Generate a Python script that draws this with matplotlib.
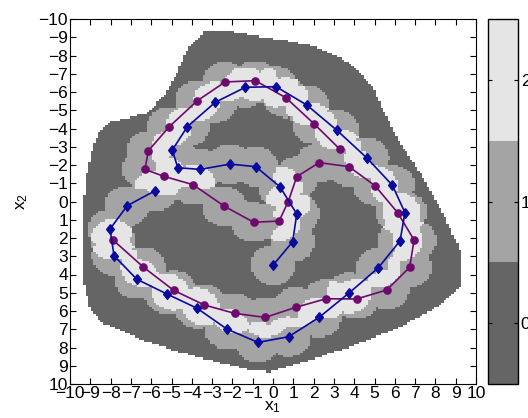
import numpy as np
import matplotlib.pyplot as plt
from matplotlib.colors import ListedColormap
from matplotlib.path import Path

plt.rcParams["font.family"] = ["Liberation Sans", "DejaVu Sans"]
plt.rcParams["mathtext.fontset"] = "custom"
plt.rcParams["mathtext.rm"] = "Liberation Sans"
plt.rcParams["mathtext.it"] = "Liberation Sans"

# trajectory 1 (purple, circles)
purple_x = [3.30, 2.03, 0.63, -0.87, -2.36, -3.73, -5.11, -6.14, -6.31, -5.38,
            -3.93, -2.41, -0.95, 0.30, 0.75, 1.17, 2.27, 3.74, 5.02, 6.14,
            6.95, 6.73, 5.60, 4.12, 2.61, 1.12, -0.38, -1.89, -3.38, -4.89,
            -6.39, -7.90]
purple_y = [-2.86, -4.25, -5.69, -6.62, -6.55, -5.52, -4.10, -2.78, -1.76, -1.38,
            -0.92, 0.25, 1.14, 1.07, 0.01, -1.36, -2.13, -1.91, -0.87, 0.61,
            2.11, 3.61, 4.85, 5.34, 5.33, 5.80, 6.35, 6.13, 5.67, 4.87,
            3.59, 2.09]

# trajectory 2 (blue, diamonds)
blue_x = [0.01, 0.97, 1.17, 0.34, -0.85, -2.12, -3.58, -4.69, -4.96, -4.22,
          -2.84, -1.36, 0.15, 1.66, 3.15, 4.63, 5.88, 6.50, 6.26, 5.19,
          3.76, 2.27, 0.77, -0.74, -2.27, -3.74, -5.22, -6.71, -7.83, -8.03,
          -7.18, -5.81]
blue_y = [3.48, 2.20, 0.68, -0.81, -1.91, -2.05, -1.76, -1.85, -2.82, -4.10,
          -5.44, -6.26, -6.29, -5.29, -3.90, -2.38, -0.89, 0.61, 2.15, 3.63,
          5.00, 6.35, 7.41, 7.72, 6.99, 5.85, 5.07, 4.26, 2.97, 1.51,
          0.23, -0.59]

# outline of the explored region
region_x = [-3.35, -1.97, -1.13, 0.49, 2.17, 3.79, 4.93, 5.42, 6.26, 7.39,
            8.23, 9.21, 9.21, 8.08, 6.26, 3.79, 1.33, -0.15, -1.13, -2.76,
            -4.43, -6.06, -7.19, -8.37, -9.01, -9.36, -9.36, -9.16, -8.87, -8.52,
            -8.03, -7.19, -6.21, -5.42, -4.73, -4.24]
region_y = [-9.34, -9.29, -9.12, -8.85, -8.47, -7.59, -6.27, -5.01, -3.20, -1.34,
            0.30, 2.66, 4.68, 5.78, 6.88, 7.97, 8.85, 9.34, 9.23, 8.79,
            8.30, 7.75, 7.20, 6.66, 5.95, 4.14, 0.47, -1.56, -2.99, -3.92,
            -4.36, -4.58, -4.85, -5.73, -7.04, -8.30]

levels = [0, 1, 2]
level_colors = ["#656565", "#a4a4a4", "#e5e5e5"]
radius = 1.1
ticks = list(range(-10, 11))


def coverage(gx, gy, px, py):
    d = np.full(gx.shape, np.inf)
    for x, y in zip(px, py):
        d = np.minimum(d, np.hypot(gx - x, gy - y))
    return d < radius


def main():
    g = np.arange(-10, 10.001, 0.12)
    gx, gy = np.meshgrid(g, g)
    val = coverage(gx, gy, purple_x, purple_y).astype(float) + coverage(gx, gy, blue_x, blue_y)
    inside = Path(np.column_stack([region_x, region_y])).contains_points(
        np.column_stack([gx.ravel(), gy.ravel()])).reshape(gx.shape)
    val = np.ma.masked_where(~inside, val)

    fig = plt.figure(figsize=(5.28, 4.18), dpi=100)
    ax = fig.add_axes([70 / 528, 34 / 418, 406 / 528, 365 / 418])
    cax = fig.add_axes([488 / 528, 34 / 418, 30 / 528, 365 / 418])

    cmap = ListedColormap(level_colors)
    mesh = ax.pcolormesh(gx, gy, val, cmap=cmap, vmin=-0.5, vmax=2.5, shading="nearest")

    ax.plot(purple_x, purple_y, "-o", color="#6e0a6e", lw=1.2, ms=5.2, mec="#6e0a6e")
    diamond = [(0, 1), (0.8, 0), (0, -1), (-0.8, 0), (0, 1)]
    ax.plot(blue_x, blue_y, "-", color="#0a0a9e", lw=1.2, marker=diamond, ms=7, mec="#0a0a9e")

    ax.set_xlim(-10, 10)
    ax.set_ylim(10, -10)
    ax.set_xticks(ticks)
    ax.set_yticks(ticks)
    ax.tick_params(direction="in", top=True, right=True, length=4, labelsize=12.5, pad=1.5)
    ax.set_xlabel("x$_1$", fontsize=12.5, labelpad=-1)
    ax.set_ylabel("x$_2$", fontsize=12.5, labelpad=6)

    cb = fig.colorbar(mesh, cax=cax, ticks=levels)
    cb.outline.set_linewidth(1)
    cax.tick_params(direction="in", left=True, right=True, length=3, labelsize=12.5, pad=2)
    fig.savefig("out.png", dpi=100)


if __name__ == "__main__":
    main()
